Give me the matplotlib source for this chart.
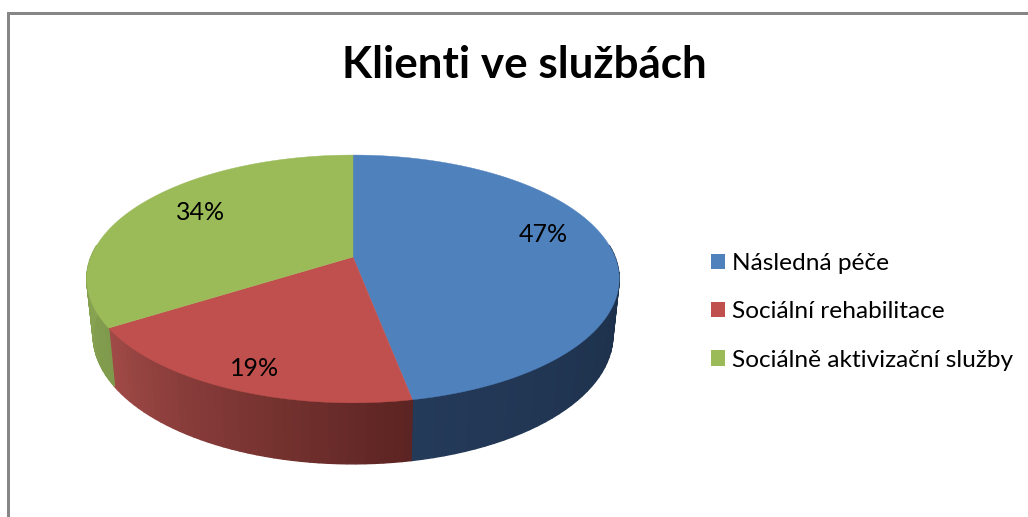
import numpy as np
import matplotlib
matplotlib.use('Agg')
import matplotlib.pyplot as plt
from matplotlib.patches import Polygon, Patch

plt.rcParams['font.family'] = ['Lato', 'DejaVu Sans']

title = 'Klienti ve službách'
labels = ['Následná péče', 'Sociální rehabilitace', 'Sociálně aktivizační služby']
values = [47, 19, 34]
colors = ['#4f81bd', '#c0504d', '#9bbb59']
wall_left = ['#243a59', '#a04a47', '#8aa653']
wall_right = ['#1b2e47', '#5c2422', '#7f9a4c']
label_pos = [(543, 234), (255, 368), (201, 213)]

# perspective of the pie, in pixels
cx, cy = 353, 257
bx, by, p = 262, 120, 0.177
depth = 55.8
shrink_x = 0.976
shrink_y = 1.036


def top(a):
    u, v = np.sin(a), -np.cos(a)
    s = 1 / (1 - p * v)
    return cx + bx * u * s, cy + by * v * s


def bottom(a):
    x, y = top(a)
    return cx + (x - cx) * shrink_x, cy + (y - cy) * shrink_y + depth


def mix(c1, c2, t):
    a = np.array(matplotlib.colors.to_rgb(c1))
    b = np.array(matplotlib.colors.to_rgb(c2))
    return a + (b - a) * t


fig = plt.figure(figsize=(10.28, 5.17), dpi=100)
ax = fig.add_axes([0, 0, 1, 1])
ax.set_xlim(0, 1028)
ax.set_ylim(517, 0)
ax.axis('off')

edges = np.cumsum([0] + values) / sum(values) * 2 * np.pi

# walls first: only the part of the rim that faces the viewer
for i in range(len(values)):
    lo = max(edges[i], np.pi / 2 - 0.1)
    hi = min(edges[i + 1], 3 * np.pi / 2 + 0.1)
    if hi <= lo:
        continue
    steps = np.linspace(lo, hi, 41)
    for j in range(40):
        # angles run clockwise, so lo is the right side on screen
        c = mix(wall_right[i], wall_left[i], j / 39)
        s0, s1 = steps[j], steps[j + 1]
        xa, ya = top(s0)
        xb, yb = top(s1)
        xc, yc = bottom(s1)
        xd, yd = bottom(s0)
        ax.add_patch(Polygon([(xa, ya), (xb, yb), (xc, yc), (xd, yd)], closed=True,
                             facecolor=c, edgecolor=c, lw=1, zorder=2))

# top surface
for i in range(len(values)):
    aa = np.linspace(edges[i], edges[i + 1], 200)
    xs, ys = top(aa)
    pts = [(cx, cy)] + list(zip(xs, ys))
    ax.add_patch(Polygon(pts, closed=True, facecolor=colors[i], edgecolor=colors[i], lw=0.3, zorder=3))
    ax.text(label_pos[i][0], label_pos[i][1], f'{values[i]}%', fontsize=18, color='black',
            ha='center', va='center', zorder=4)

ax.text(524.5, 65, title, fontsize=31.7, fontweight='bold', color='black', ha='center', va='center')

handles = [Patch(facecolor=c, edgecolor='none', label=l) for c, l in zip(colors, labels)]
ax.legend(handles=handles, loc='center left', bbox_to_anchor=(711 / 1028, 1 - 312 / 517),
          frameon=False, fontsize=17.6, handlelength=0.57, handleheight=0.57,
          labelspacing=1.11, handletextpad=0.29, borderpad=0, borderaxespad=0)

# chart frame, open on the right and bottom
ax.plot([7.5, 7.5, 1028], [517, 12.5, 12.5], color='#868686', lw=2.16, zorder=5, solid_joinstyle='miter')

fig.savefig('out.png', dpi=100)
